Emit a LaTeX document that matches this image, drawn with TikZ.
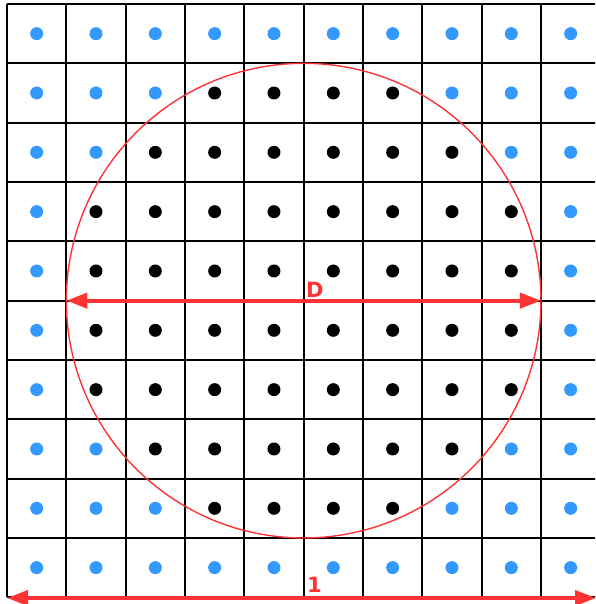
\documentclass[tikz,border=0pt]{standalone}
\usepackage{fontspec}
\setmainfont{DejaVu Sans}
\usetikzlibrary{arrows.meta}
\definecolor{dotblue}{HTML}{3399FF}
\definecolor{myred}{HTML}{FF3333}
\begin{document}
\begin{tikzpicture}[x=1pt,y=-1pt,
  gridline/.style={black,line width=2pt},
  bluedot/.style={fill=dotblue},
  blackdot/.style={fill=black},
  dimarrow/.style={myred,line width=4pt,{Triangle[length=21pt,width=15pt]}-{Triangle[length=21pt,width=15pt]}},
  dimlabel/.style={text=myred,font=\bfseries\fontsize{21}{21}\selectfont,inner sep=0pt}]
\useasboundingbox (0,0) rectangle (595,604);
\begin{scope}
\clip (0,0) rectangle (595,604);
\def\s{59.33}
\foreach \i in {0,...,10}{
  \draw[gridline] ({7+\i*\s},4) -- ({7+\i*\s},{4+10*\s});
  \draw[gridline] (7,{4+\i*\s}) -- ({7+10*\s},{4+\i*\s});
}
\foreach \i in {0,...,9}{
  \foreach \j in {0,...,9}{
    \pgfmathsetmacro{\dd}{(\i+0.5-5)^2+(\j+0.5-5)^2}
    \ifdim\dd pt<16pt
      \fill[blackdot] ({7+(\i+0.5)*\s},{4+(\j+0.5)*\s}) circle (6.5);
    \else
      \fill[bluedot] ({7+(\i+0.5)*\s},{4+(\j+0.5)*\s}) circle (6.5);
    \fi
  }
}
\coordinate (c) at ({7+5*\s},{4+5*\s});
\draw[myred,line width=1.4pt] (c) circle ({4*\s});
\coordinate (dl) at ({7+1*\s},{4+5*\s});
\coordinate (dr) at ({7+9*\s},{4+5*\s});
\draw[dimarrow] (dl) -- (dr);
\node[dimlabel,anchor=south west] (dlab) at (306,298) {D};
\coordinate (bl) at (7,598);
\coordinate (br) at (596,598);
\draw[dimarrow] (bl) -- (br);
\node[dimlabel,anchor=south west] (onelab) at (307,593) {1};
\end{scope}
\end{tikzpicture}
\end{document}
